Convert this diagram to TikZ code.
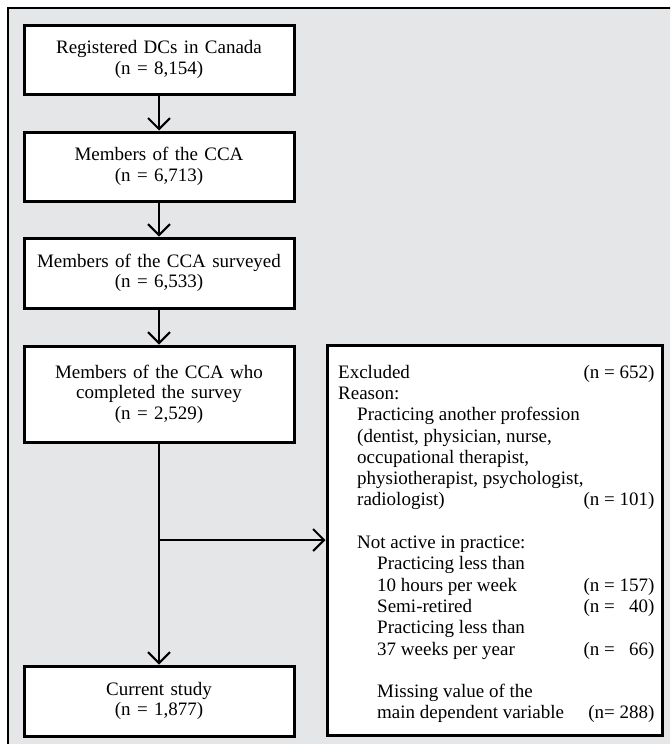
\documentclass[tikz,border=0pt]{standalone}
\usepackage{fontspec}
\setmainfont{Liberation Serif}
\usetikzlibrary{arrows.meta}
\definecolor{panelgray}{RGB}{229,230,232}
\begin{document}
\begin{tikzpicture}[x=1pt,y=-1pt,
  flowbox/.style={draw=black, fill=white, line width=3pt, minimum width=270pt,
    text width=262pt, align=center, inner sep=0pt,
    font=\fontsize{19}{20.5}\selectfont},
  exclbox/.style={draw=black, fill=white, line width=3pt, minimum width=335pt,
    minimum height=390pt, inner sep=0pt},
  listtext/.style={inner sep=0pt, anchor=north west, font=\fontsize{19}{21.3}\selectfont},
  conn/.style={line width=2pt, -{Straight Barb[length=11pt,width=22pt]}},
  plain/.style={line width=2pt},
]
\useasboundingbox (0,0) rectangle (670,744);
\begin{scope}
  \clip (0,0) rectangle (670,744);
  \draw[line width=2.5pt, fill=panelgray] (8,8) rectangle (690,770);
\end{scope}

\node[flowbox, minimum height=69pt] (reg) at (159,59.5) {Registered DCs in Canada\\(n = 8,154)};
\node[flowbox, minimum height=69pt] (cca) at (159,166.5) {Members of the CCA\\(n = 6,713)};
\node[flowbox, minimum height=70pt] (surv) at (159,273) {Members of the CCA surveyed\\(n = 6,533)};
\node[flowbox, minimum height=96pt] (comp) at (159,394) {Members of the CCA who\\completed the survey\\(n = 2,529)};
\node[flowbox, minimum height=70pt] (cur) at (159,701) {Current study\\(n = 1,877)};

\node[exclbox] (excl) at (494.5,540) {};
\node[listtext] (excltext) at (338,363) {%
\begin{tabular*}{314pt}{@{}l@{\extracolsep{\fill}}r@{}}
Excluded & (n = 652)\\
Reason: & \\
\hspace*{19pt}Practicing another profession & \\
\hspace*{19pt}(dentist, physician, nurse, & \\
\hspace*{19pt}occupational therapist, & \\
\hspace*{19pt}physiotherapist, psychologist, & \\
\hspace*{19pt}radiologist) & (n = 101)\\
 & \\
\hspace*{19pt}Not active in practice: & \\
\hspace*{39pt}Practicing less than & \\
\hspace*{39pt}10 hours per week & (n = 157)\\
\hspace*{39pt}Semi-retired & (n = \phantom{1}40)\\
\hspace*{39pt}Practicing less than & \\
\hspace*{39pt}37 weeks per year & (n = \phantom{1}66)\\
 & \\
\hspace*{39pt}Missing value of the & \\
\hspace*{39pt}main dependent variable & (n= 288)\\
\end{tabular*}};

\coordinate (split) at (comp.south |- excl.west);
\draw[conn] (reg) -- (cca);
\draw[conn] (cca) -- (surv);
\draw[conn] (surv) -- (comp);
\draw[plain] (comp.south) -- (split);
\draw[conn] (split) -- (cur.north);
\draw[conn] (split) -- (excl.west);
\end{tikzpicture}
\end{document}
